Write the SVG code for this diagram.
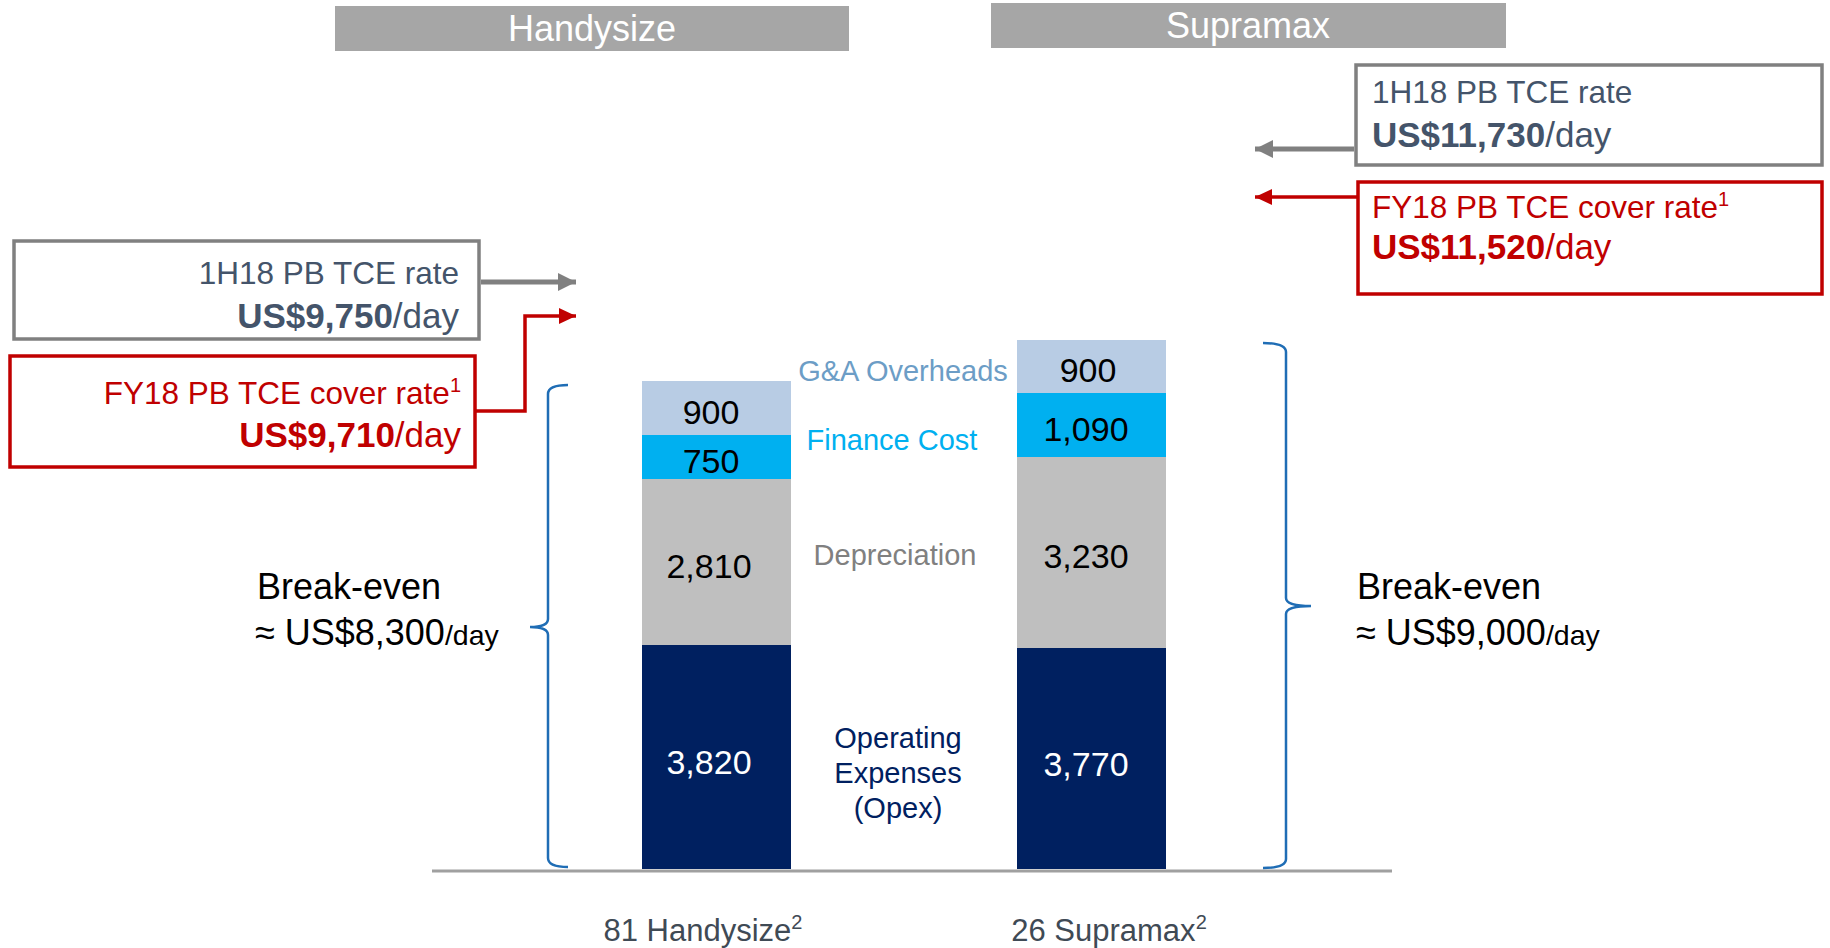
<svg xmlns="http://www.w3.org/2000/svg" width="1830" height="948" viewBox="0 0 1830 948">
<style>
text{font-family:"Liberation Sans",Arial,sans-serif}
.hdr{fill:#A6A6A6}
.hdrt{fill:#fff;font-size:36px;text-anchor:middle}
.gbox{fill:#fff;stroke:#808080;stroke-width:3.5}
.rbox{fill:#fff;stroke:#C00000;stroke-width:3.5}
.gt1{fill:#44546A;font-size:31.5px}
.gt2{fill:#44546A;font-size:35px}
.rt1{fill:#C00000;font-size:31.5px}
.rt2{fill:#C00000;font-size:35px}
.b{font-weight:bold}
.num{font-size:34px;text-anchor:middle;fill:#000}
.numw{font-size:34px;text-anchor:middle;fill:#fff}
.lbl{font-size:29px;text-anchor:middle}
.be{font-size:36px;fill:#000}
.day{font-size:28.5px}
.brace{fill:none;stroke:#1F6DB5;stroke-width:2.5}
.bot{font-size:31px;fill:#3F4A55;text-anchor:middle}
.ga{fill:#B8CCE4}.fc{fill:#00B0F0}.dp{fill:#BFBFBF}.op{fill:#002060}
</style>
<defs>
<marker id="ahg" markerUnits="userSpaceOnUse" markerWidth="20" markerHeight="20" viewBox="0 0 20 20" refX="18" refY="10" orient="auto"><path d="M0,1 L18,10 L0,19 Z" fill="#808080"/></marker>
<marker id="ahr" markerUnits="userSpaceOnUse" markerWidth="20" markerHeight="20" viewBox="0 0 20 20" refX="17" refY="10" orient="auto"><path d="M0,2 L17,10 L0,18 Z" fill="#C00000"/></marker>
</defs>

<g id="header-handysize"><rect class="hdr" x="335" y="6" width="514" height="45"/><text class="hdrt" x="592" y="41">Handysize</text></g>
<g id="header-supramax"><rect class="hdr" x="991" y="3" width="515" height="45"/><text class="hdrt" x="1248" y="38">Supramax</text></g>

<g id="hs-1h18-box"><rect class="gbox" x="14" y="241" width="465" height="98"/>
<text class="gt1" x="459" y="284" text-anchor="end">1H18 PB TCE rate</text>
<text class="gt2" x="459" y="328" text-anchor="end"><tspan class="b">US$9,750</tspan>/day</text></g>

<g id="hs-fy18-box"><rect class="rbox" x="10" y="356" width="465" height="111"/>
<text class="rt1" x="461" y="404" text-anchor="end">FY18 PB TCE cover rate<tspan font-size="20" dy="-12">1</tspan></text>
<text class="rt2" x="461" y="447" text-anchor="end"><tspan class="b">US$9,710</tspan>/day</text></g>

<g id="sm-1h18-box"><rect class="gbox" x="1356" y="65" width="466" height="100"/>
<text class="gt1" x="1372" y="103">1H18 PB TCE rate</text>
<text class="gt2" x="1372" y="147"><tspan class="b">US$11,730</tspan>/day</text></g>

<g id="sm-fy18-box"><rect class="rbox" x="1358" y="182" width="464" height="112"/>
<text class="rt1" x="1372" y="218">FY18 PB TCE cover rate<tspan font-size="20" dy="-12">1</tspan></text>
<text class="rt2" x="1372" y="259"><tspan class="b">US$11,520</tspan>/day</text></g>

<g id="connectors">
<line x1="481" y1="282" x2="576" y2="282" stroke="#808080" stroke-width="5" marker-end="url(#ahg)"/>
<polyline points="476,411 525,411 525,316 576,316" fill="none" stroke="#C00000" stroke-width="3.5" marker-end="url(#ahr)"/>
<line x1="1354" y1="149" x2="1255" y2="149" stroke="#808080" stroke-width="5" marker-end="url(#ahg)"/>
<line x1="1357" y1="197" x2="1255" y2="197" stroke="#C00000" stroke-width="3.5" marker-end="url(#ahr)"/>
</g>

<g id="axis"><line x1="432" y1="871" x2="1392" y2="871" stroke="#A0A0A0" stroke-width="3"/></g>

<g id="bar-handysize">
<rect class="ga" x="642" y="381" width="149" height="54"/>
<rect class="fc" x="642" y="435" width="149" height="44"/>
<rect class="dp" x="642" y="479" width="149" height="166"/>
<rect class="op" x="642" y="645" width="149" height="224"/>
<text class="num" x="711" y="424">900</text>
<text class="num" x="711" y="473">750</text>
<text class="num" x="709" y="578">2,810</text>
<text class="numw" x="709" y="774">3,820</text>
</g>

<g id="bar-supramax">
<rect class="ga" x="1017" y="340" width="149" height="53"/>
<rect class="fc" x="1017" y="393" width="149" height="64"/>
<rect class="dp" x="1017" y="457" width="149" height="191"/>
<rect class="op" x="1017" y="648" width="149" height="221"/>
<text class="num" x="1088" y="382">900</text>
<text class="num" x="1086" y="441">1,090</text>
<text class="num" x="1086" y="568">3,230</text>
<text class="numw" x="1086" y="776">3,770</text>
</g>

<g id="legend">
<text class="lbl" x="903" y="381" fill="#6C9DC6">G&amp;A Overheads</text>
<text class="lbl" x="892" y="450" fill="#00B0F0">Finance Cost</text>
<text class="lbl" x="895" y="565" fill="#808080">Depreciation</text>
<text class="lbl" x="898" y="748" fill="#002060">Operating</text>
<text class="lbl" x="898" y="783" fill="#002060">Expenses</text>
<text class="lbl" x="898" y="818" fill="#002060">(Opex)</text>
</g>

<g id="breakeven-handysize">
<path class="brace" d="M568,385 Q548,385 548,394 L548,619 Q548,627 530,627 Q548,627 548,635 L548,858 Q548,867 568,867"/>
<text class="be" x="257" y="599">Break-even</text>
<text class="be" x="255" y="645">≈ US$8,300<tspan class="day">/day</tspan></text>
</g>

<g id="breakeven-supramax">
<path class="brace" d="M1263,343 Q1286,343 1286,352 L1286,598 Q1286,606 1311,606 Q1286,606 1286,614 L1286,859 Q1286,868 1263,868"/>
<text class="be" x="1357" y="599">Break-even</text>
<text class="be" x="1356" y="645">≈ US$9,000<tspan class="day">/day</tspan></text>
</g>

<g id="xlabels">
<text class="bot" x="703" y="941">81 Handysize<tspan font-size="20" dy="-12">2</tspan></text>
<text class="bot" x="1109" y="941">26 Supramax<tspan font-size="20" dy="-12">2</tspan></text>
</g>
</svg>
